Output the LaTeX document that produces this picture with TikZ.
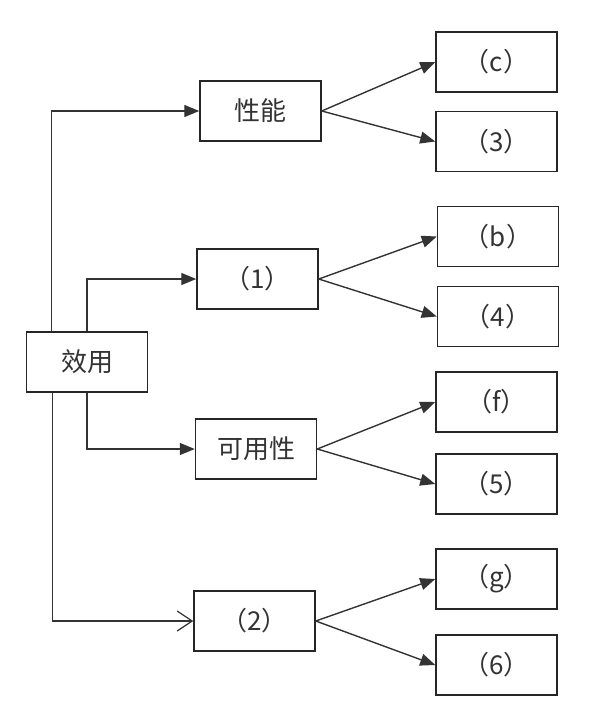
\documentclass[tikz,border=0pt]{standalone}
\usepackage{fontspec}
\setmainfont{Noto Sans CJK SC}
\usetikzlibrary{arrows.meta}
\tikzset{
  box/.style={draw=black!85,line width=1.5pt,minimum width=121pt,minimum height=60pt,
    inner sep=0pt,text=black!80,font=\fontsize{26}{30}\selectfont},
  tri/.style={-{Triangle[length=15pt,width=12pt]},line width=1.4pt,draw=black!80},
  barb/.style={-{Straight Barb[length=15pt,width=20pt,line width=1.2pt]},line width=1.4pt,draw=black!80}
}
\begin{document}
\begin{tikzpicture}[x=1pt,y=-1pt]
        \useasboundingbox (0,0) rectangle (598,716);
        % root
        \node[box] (xy) at (87,362) {效用};
        % middle
        \node[box] (xn) at (260.5,111) {性能};
        \node[box] (p1) at (257.5,279) {（1）};
        \node[box] (ky) at (256,449) {可用性};
        \node[box] (p2) at (254.5,621) {（2）};
        % leaves
        \node[box] (c) at (496.5,62) {（c）};
        \node[box] (n3) at (496.5,141.5) {（3）};
        \node[box] (b) at (498,236.5) {（b）};
        \node[box] (n4) at (498,316.5) {（4）};
        \node[box] (f) at (496.5,402) {（f）};
        \node[box] (n5) at (496.5,484) {（5）};
        \node[box] (g) at (496.5,579) {（g）};
        \node[box] (n6) at (496.5,665) {（6）};
        % root to middle
        \draw[tri] ([xshift=26pt]xy.north west) |- (xn.west);
        \draw[tri] (xy.north) |- (p1.west);
        \draw[tri] (xy.south) |- (ky.west);
        \draw[barb] ([xshift=27pt]xy.south west) |- (p2.west);
        % middle to leaves
        \draw[tri] (xn.east) -- (c.west);
        \draw[tri] (xn.east) -- (n3.west);
        \draw[tri] (p1.east) -- (b.west);
        \draw[tri] (p1.east) -- (n4.west);
        \draw[tri] (ky.east) -- (f.west);
        \draw[tri] (ky.east) -- (n5.west);
        \draw[tri] (p2.east) -- (g.west);
        \draw[tri] (p2.east) -- (n6.west);
    \end{tikzpicture}
\end{document}
